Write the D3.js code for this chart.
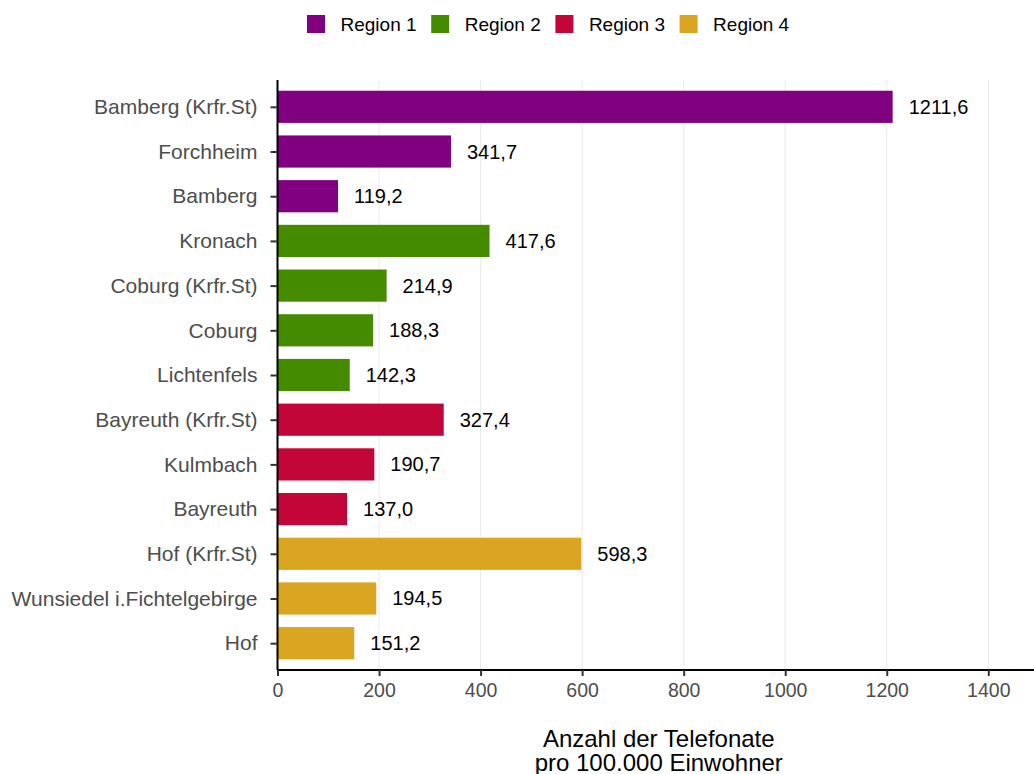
<!DOCTYPE html>
<html>
<head>
<meta charset="utf-8">
<script src="https://cdn.jsdelivr.net/npm/d3@7"></script>
<style>
  body { margin: 0; background: #fff; }
</style>
</head>
<body>
<div id="chart"></div>
<script>
// Data
const districts = ["Bamberg (Krfr.St)", "Forchheim", "Bamberg", "Kronach", "Coburg (Krfr.St)", "Coburg",
    "Lichtenfels", "Bayreuth (Krfr.St)", "Kulmbach", "Bayreuth", "Hof (Krfr.St)",
    "Wunsiedel i.Fichtelgebirge", "Hof"];
const calls = [1211.6, 341.7, 119.2, 417.6, 214.9, 188.3, 142.3, 327.4, 190.7, 137.0, 598.3, 194.5, 151.2];
const regionOf = ["Region 1", "Region 1", "Region 1", "Region 2", "Region 2", "Region 2", "Region 2",
    "Region 3", "Region 3", "Region 3", "Region 4", "Region 4", "Region 4"];
const regions = ["Region 1", "Region 2", "Region 3", "Region 4"];
const regionColors = ["#800080", "#458b00", "#c20637", "#daa520"];
const xTicks = [0, 200, 400, 600, 800, 1000, 1200, 1400];

const width = 1034, height = 774;
const margin = { top: 80, right: 0, bottom: 104, left: 277.5 };
const font = "'Liberation Sans', Arial, sans-serif";

const svg = d3.select("#chart").append("svg")
    .attr("width", width)
    .attr("height", height)
    .attr("font-family", font);

const xScale = d3.scaleLinear().domain([0, 1490]).range([margin.left, width - margin.right]);
const yScale = d3.scalePoint().domain(districts).range([margin.top, height - margin.bottom]).padding(0.6);
const color = d3.scaleOrdinal().domain(regions).range(regionColors);
const barH = yScale.step() * 0.72;

// Grid lines
svg.append("g")
    .selectAll("line")
    .data(xTicks)
    .enter()
    .append("line")
    .attr("x1", d => xScale(d))
    .attr("x2", d => xScale(d))
    .attr("y1", margin.top)
    .attr("y2", height - margin.bottom)
    .attr("stroke", "#ebebeb")
    .attr("stroke-width", 1.1);

// Bars
svg.selectAll("rect.bar")
    .data(districts)
    .enter()
    .append("rect")
    .attr("class", "bar")
    .attr("x", xScale(0))
    .attr("y", d => yScale(d) - barH / 2)
    .attr("width", (d, i) => xScale(calls[i]) - xScale(0))
    .attr("height", barH)
    .attr("fill", (d, i) => color(regionOf[i]));

// Value labels
svg.selectAll("text.value")
    .data(districts)
    .enter()
    .append("text")
    .attr("class", "value")
    .attr("x", (d, i) => xScale(calls[i]) + 16)
    .attr("y", d => yScale(d))
    .attr("dy", "0.35em")
    .attr("font-size", 20)
    .attr("fill", "#000")
    .text((d, i) => calls[i].toFixed(1).replace(".", ","));

// X axis
const xAxis = svg.append("g")
    .attr("transform", `translate(0,${height - margin.bottom})`)
    .call(d3.axisBottom(xScale).tickValues(xTicks).tickFormat(d3.format("d")).tickSize(6).tickPadding(7));
xAxis.attr("font-family", font).attr("font-size", 19.5);
xAxis.selectAll("text").attr("fill", "#4d4d4d");

// Y axis
const yAxis = svg.append("g")
    .attr("transform", `translate(${margin.left},0)`)
    .call(d3.axisLeft(yScale).tickSize(7).tickPadding(13));
yAxis.attr("font-family", font).attr("font-size", 21);
yAxis.selectAll("text").attr("fill", "#4d4d4d");

svg.selectAll(".domain").attr("stroke", "#000").attr("stroke-width", 2);
svg.selectAll(".tick line").attr("stroke", "#333").attr("stroke-width", 2);
xAxis.select(".domain").attr("d", `M${margin.left},0H${width}`);
yAxis.select(".domain").attr("d", `M0,${margin.top}V${height - margin.bottom}`);

// Axis title
const titleX = (xScale.range()[0] + xScale.range()[1]) / 2 + 3;
svg.append("text")
    .attr("y", 747)
    .attr("text-anchor", "middle")
    .attr("font-size", 24)
    .attr("fill", "#000")
    .selectAll("tspan")
    .data(["Anzahl der Telefonate", "pro 100.000 Einwohner"])
    .enter()
    .append("tspan")
    .attr("x", titleX)
    .attr("dy", (d, i) => i === 0 ? 0 : 23.5)
    .text(d => d);

// Legend
const legend = svg.append("g").attr("transform", "translate(307,15)");
const item = legend.selectAll("g")
    .data(regions)
    .enter()
    .append("g")
    .attr("transform", (d, i) => `translate(${i * 124.2},0)`);
item.append("rect")
    .attr("width", 18)
    .attr("height", 18)
    .attr("fill", d => color(d));
item.append("text")
    .attr("x", 33.5)
    .attr("y", 9)
    .attr("dy", "0.35em")
    .attr("font-size", 19)
    .attr("fill", "#000")
    .text(d => d);
</script>
</body>
</html>
